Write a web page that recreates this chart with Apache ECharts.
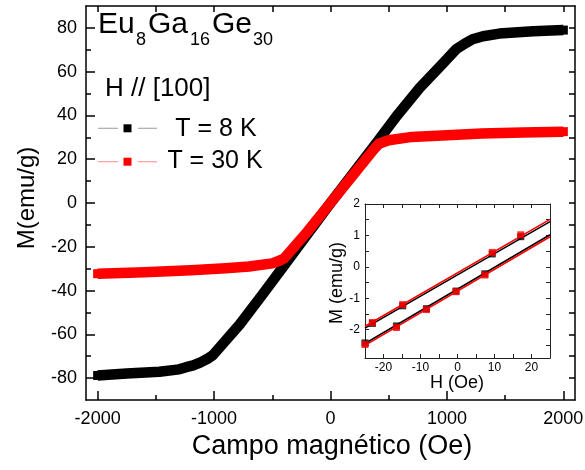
<!DOCTYPE html>
<html><head><meta charset="utf-8">
<script src="https://cdn.jsdelivr.net/npm/echarts@6/dist/echarts.min.js"></script>
<style>html,body{margin:0;padding:0;background:#fff}#c{width:585px;height:470px}</style>
</head><body><div id="c"></div>
<script>
// ---- main loop data (field in Oe, magnetization in emu/g) ----
const field8K = [-2000,-1750,-1470,-1300,-1240,-1180,-1120,-1060,-1010,-780,-580,-380,0,400,566,766,966,1080,1150,1220,1310,1450,1740,2000];
const mag8K   = [-78.8,-77.9,-77.1,-76.0,-75.0,-74.2,-72.9,-71.3,-69.5,-55.5,-41.5,-27.2,0,27.8,39.6,52.6,63.8,70.3,72.7,74.8,76.2,77.4,78.5,79.0];
const field30K = [-2000,-1600,-1200,-900,-700,-500,-440,-400,-200,0,200,380,420,500,700,1000,1300,1650,2000];
const mag30K   = [-32.3,-31.6,-30.7,-29.8,-29.0,-27.6,-26.4,-25.4,-13.2,0,13.2,25.0,27.2,28.7,30.2,31.0,31.7,32.2,32.6];

// ---- inset data (H in Oe, M in emu/g) ----
const insetFitH = [-25, 25];
const insetFit8KUp   = [-1.95, 1.44];
const insetFit30KUp  = [-1.89, 1.51];
const insetFit8KDown = [-2.44, 1.02];
const insetFit30KDown= [-2.50, 0.96];
const insetPtsH_up   = [-23.0, -14.8, 9.4, 17.1];
const insetPts8K_up  = [-1.80, -1.24, 0.41, 0.96];
const insetPts30K_up = [-1.77, -1.20, 0.46, 1.02];
const insetPtsH_down   = [-25.0, -16.5, -8.4, -0.4, 7.4];
const insetPts8K_down  = [-2.42, -1.88, -1.33, -0.77, -0.22];
const insetPts30K_down = [-2.47, -1.93, -1.36, -0.79, -0.26];

// ---- ticks ----
const mainXLabels = [-2000,-1000,0,1000,2000];
const mainXMinor  = [-2000,-1500,-1000,-500,0,500,1000,1500,2000];
const mainYLabels = [-80,-60,-40,-20,0,20,40,60,80];
const mainYMinor  = [-80,-70,-60,-50,-40,-30,-20,-10,0,10,20,30,40,50,60,70,80];
const insetXLabels = [-20,-10,0,10,20];
const insetXTicks  = [-20,-15,-10,-5,0,5,10,15,20];
const insetYLabels = [-2,-1,0,1,2];
const insetYTicks  = [-2.5,-2,-1.5,-1,-0.5,0,0.5,1,1.5,2];

const FF = '"Liberation Sans", Arial, sans-serif';
const zip = (a,b) => a.map((v,i)=>[v,b[i]]);
const plain = v => String(v);
const endsOnly = n => (val, p) => (p.dataIndex === 0 || p.dataIndex === n - 1) ? 'rect' : 'none';

function axis(o){
  return Object.assign({
    type:'value', splitLine:{show:false},
    axisLine:{show:true, onZero:false, lineStyle:{color:'#000', width:1.5}},
    axisTick:{show:true, inside:true, length:5, lineStyle:{color:'#000', width:1.5}},
    axisLabel:{show:false}
  }, o);
}

const chart = echarts.init(document.getElementById('c'), null, {renderer:'canvas'});
const option = {
  animation:false,
  backgroundColor:'#fff',
  textStyle:{fontFamily:FF},
  grid:[
    {left:86, top:6, width:489, height:394, outerBoundsMode:'none', containLabel:false},
    {left:365, top:204, width:185, height:154, show:true, backgroundColor:'#fff', borderWidth:0, outerBoundsMode:'none', containLabel:false}
  ],
  xAxis:[
    axis({gridIndex:0, min:-2100, max:2100, position:'bottom',
      axisTick:{show:true, inside:true, length:5, customValues:mainXMinor, lineStyle:{color:'#000',width:1.5}},
      axisLabel:{show:true, customValues:mainXLabels, formatter:plain, fontSize:18, color:'#000', margin:10, fontFamily:FF}}),
    axis({gridIndex:0, min:-2100, max:2100, position:'bottom', axisLine:{show:false, onZero:false},
      axisTick:{show:true, inside:true, length:9, customValues:mainXLabels, lineStyle:{color:'#000',width:1.5}}}),
    axis({gridIndex:0, min:-2100, max:2100, position:'top',
      axisTick:{show:true, inside:true, length:6, customValues:mainXMinor, lineStyle:{color:'#000',width:1.5}}}),
    axis({gridIndex:1, min:-25, max:25, position:'bottom',
      axisLine:{show:true,onZero:false,lineStyle:{color:'#222',width:1}},
      axisTick:{show:true, inside:true, length:4, customValues:insetXTicks, lineStyle:{color:'#222',width:1}},
      axisLabel:{show:true, customValues:insetXLabels, formatter:plain, fontSize:12, color:'#000', margin:4, fontFamily:FF}}),
    axis({gridIndex:1, min:-25, max:25, position:'top',
      axisLine:{show:true,onZero:false,lineStyle:{color:'#222',width:1}},
      axisTick:{show:true, inside:true, length:4, customValues:insetXTicks, lineStyle:{color:'#222',width:1}}})
  ],
  yAxis:[
    axis({gridIndex:0, min:-90, max:90, position:'left',
      axisTick:{show:true, inside:true, length:5, customValues:mainYMinor, lineStyle:{color:'#000',width:1.5}},
      axisLabel:{show:true, customValues:mainYLabels, formatter:plain, fontSize:18, color:'#000', margin:9, fontFamily:FF}}),
    axis({gridIndex:0, min:-90, max:90, position:'left', axisLine:{show:false, onZero:false},
      axisTick:{show:true, inside:true, length:9, customValues:mainYLabels, lineStyle:{color:'#000',width:1.5}}}),
    axis({gridIndex:0, min:-90, max:90, position:'right',
      axisTick:{show:true, inside:true, length:6, customValues:mainYMinor, lineStyle:{color:'#000',width:1.5}}}),
    axis({gridIndex:1, min:-2.9, max:2, position:'left',
      axisLine:{show:true,onZero:false,lineStyle:{color:'#222',width:1}},
      axisTick:{show:true, inside:true, length:4, customValues:insetYTicks, lineStyle:{color:'#222',width:1}},
      axisLabel:{show:true, customValues:insetYLabels, formatter:plain, fontSize:12, color:'#000', margin:5, fontFamily:FF}}),
    axis({gridIndex:1, min:-2.9, max:2, position:'right',
      axisLine:{show:true,onZero:false,lineStyle:{color:'#222',width:1}},
      axisTick:{show:true, inside:true, length:4, customValues:insetYTicks, lineStyle:{color:'#222',width:1}}})
  ],
  series:[
    {type:'line', xAxisIndex:0, yAxisIndex:0, data:zip(field8K,mag8K), showSymbol:true, symbol:endsOnly(field8K.length), symbolSize:9,
      itemStyle:{color:'#000'}, lineStyle:{color:'#000', width:10.5, join:'round', cap:'butt'}, z:2},
    {type:'line', xAxisIndex:0, yAxisIndex:0, data:zip(field30K,mag30K), showSymbol:true, symbol:endsOnly(field30K.length), symbolSize:9,
      itemStyle:{color:'#ff0000'}, lineStyle:{color:'#ff0000', width:10.5, join:'round', cap:'butt'}, z:3},
    {type:'line', xAxisIndex:3, yAxisIndex:3, data:zip(insetFitH,insetFit8KUp), showSymbol:false, lineStyle:{color:'#000',width:1.6}, z:4},
    {type:'line', xAxisIndex:3, yAxisIndex:3, data:zip(insetFitH,insetFit8KDown), showSymbol:false, lineStyle:{color:'#000',width:1.6}, z:4},
    {type:'scatter', xAxisIndex:3, yAxisIndex:3, data:zip(insetPtsH_up,insetPts8K_up), symbol:'rect', symbolSize:7, itemStyle:{color:'#000'}, z:5},
    {type:'scatter', xAxisIndex:3, yAxisIndex:3, data:zip(insetPtsH_down,insetPts8K_down), symbol:'rect', symbolSize:7, itemStyle:{color:'#000'}, z:5},
    {type:'line', xAxisIndex:3, yAxisIndex:3, data:zip(insetFitH,insetFit30KUp), showSymbol:false, lineStyle:{color:'#ff0000',width:1.6}, z:6},
    {type:'line', xAxisIndex:3, yAxisIndex:3, data:zip(insetFitH,insetFit30KDown), showSymbol:false, lineStyle:{color:'#ff0000',width:1.6}, z:6},
    {type:'scatter', xAxisIndex:3, yAxisIndex:3, data:zip(insetPtsH_up,insetPts30K_up), symbol:'rect', symbolSize:7, itemStyle:{color:'#ff0000'}, z:7},
    {type:'scatter', xAxisIndex:3, yAxisIndex:3, data:zip(insetPtsH_down,insetPts30K_down), symbol:'rect', symbolSize:7, itemStyle:{color:'#ff0000'}, z:7}
  ],
  graphic:[
    {type:'text', x:332, y:447, style:{text:'Campo magnético (Oe)', font:'27px '+FF, fill:'#000', align:'center', verticalAlign:'middle'}},
    {type:'text', x:27, y:198, rotation:Math.PI/2, style:{text:'M(emu/g)', font:'24px '+FF, fill:'#000', align:'center', verticalAlign:'middle'}},
    {type:'text', x:457, y:383, style:{text:'H (Oe)', font:'18px '+FF, fill:'#000', align:'center', verticalAlign:'middle'}},
    {type:'text', x:337, y:283, rotation:Math.PI/2, style:{text:'M (emu/g)', font:'18px '+FF, fill:'#000', align:'center', verticalAlign:'middle'}},
    {type:'text', x:98, y:25, style:{text:'Eu', font:'30px '+FF, fill:'#000', align:'left', verticalAlign:'middle'}},
    {type:'text', x:136, y:40, style:{text:'8', font:'18px '+FF, fill:'#000', align:'left', verticalAlign:'middle'}},
    {type:'text', x:148, y:25, style:{text:'Ga', font:'30px '+FF, fill:'#000', align:'left', verticalAlign:'middle'}},
    {type:'text', x:190, y:40, style:{text:'16', font:'18px '+FF, fill:'#000', align:'left', verticalAlign:'middle'}},
    {type:'text', x:212, y:25, style:{text:'Ge', font:'30px '+FF, fill:'#000', align:'left', verticalAlign:'middle'}},
    {type:'text', x:253, y:40, style:{text:'30', font:'18px '+FF, fill:'#000', align:'left', verticalAlign:'middle'}},
    {type:'text', x:105, y:88.5, style:{text:'H // [100]', font:'26px '+FF, fill:'#000', align:'left', verticalAlign:'middle'}},
    {type:'line', shape:{x1:98, y1:128.3, x2:118, y2:128.3}, style:{stroke:'#aaaaaa', lineWidth:1.2}},
    {type:'line', shape:{x1:138, y1:128.3, x2:157, y2:128.3}, style:{stroke:'#aaaaaa', lineWidth:1.2}},
    {type:'rect', shape:{x:123.5, y:124.3, width:8, height:8}, style:{fill:'#000'}},
    {type:'text', x:216, y:129.5, style:{text:'T = 8 K', font:'25px '+FF, fill:'#000', align:'center', verticalAlign:'middle'}},
    {type:'line', shape:{x1:98, y1:161.7, x2:118, y2:161.7}, style:{stroke:'#ff9a9a', lineWidth:1.2}},
    {type:'line', shape:{x1:138, y1:161.7, x2:157, y2:161.7}, style:{stroke:'#ff9a9a', lineWidth:1.2}},
    {type:'rect', shape:{x:123.5, y:157.7, width:8, height:8}, style:{fill:'#ff0000'}},
    {type:'text', x:215, y:161, style:{text:'T = 30 K', font:'25px '+FF, fill:'#000', align:'center', verticalAlign:'middle'}}
  ]
};
chart.setOption(option);
</script></body></html>
